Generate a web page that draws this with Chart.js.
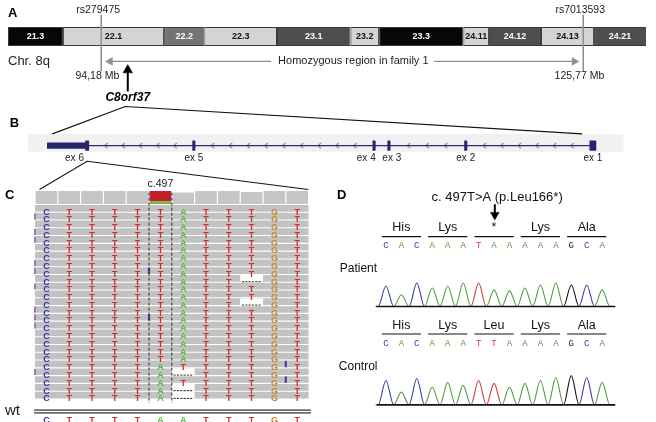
<!DOCTYPE html>
<html>
<head>
<meta charset="utf-8">
<title>C8orf37 c.497T>A</title>
<script src="https://cdn.jsdelivr.net/npm/chart.js@4.4.1/dist/chart.umd.min.js"></script>
<style>
html, body { margin: 0; padding: 0; background: #fff; }
#wrap { position: relative; width: 656px; height: 422px; overflow: hidden; }
#wrap canvas { position: absolute; left: 0; top: 0; }
</style>
</head>
<body>
<div id="wrap">
  <canvas id="chartA" width="656" height="422"></canvas>
  <canvas id="chartB" width="656" height="422"></canvas>
  <canvas id="chartC" width="656" height="422"></canvas>
  <canvas id="chartD" width="656" height="422"></canvas>
</div>
<script>
// ---- Panel A: chromosome 8q ideogram (Mb) ----
const bandNames = ['21.3', '22.1', '22.2', '22.3', '23.1', '23.2', '23.3', '24.11', '24.12', '24.13', '24.21'];
const bandStart = [88.07, 91.67, 98.30, 100.94, 105.70, 110.52, 112.39, 117.92, 119.59, 123.00, 126.48];
const bandEnd   = [91.67, 98.30, 100.94, 105.70, 110.52, 112.39, 117.92, 119.59, 123.00, 126.48, 129.89];
const bandStain = ['gpos100', 'gneg', 'gpos50', 'gneg', 'gpos75', 'gneg', 'gpos100', 'gneg', 'gpos75', 'gneg', 'gpos75'];
const snpIds = ['rs279475', 'rs7013593'];
const snpMb = [94.18, 125.77];
const snpMbLabels = ['94,18 Mb', '125,77 Mb'];
const geneName = 'C8orf37';
const geneMb = 95.92;
const regionLabel = 'Homozygous region in family 1';

// ---- Panel B: gene model (kb from the 3' end) ----
const exonNames = ['ex 6', 'ex 5', 'ex 4', 'ex 3', 'ex 2', 'ex 1'];
const exonStart = [1.75, 6.66, 14.92, 15.60, 19.12, 24.86];
const exonEnd   = [1.90, 6.77, 15.03, 15.71, 19.23, 25.14];
const utrStart = [0.00];
const utrEnd = [1.75];

// ---- Panel C: aligned reads around c.497 ----
const refBases = 'CTTTTAATTTGT';
const reads = [
  'CTTTTTATTTGT', 'CTTTTTATTTGT', 'CTTTTTATTTGT', 'CTTTTTATTTGT', 'CTTTTTATTTGT',
  'CTTTTTATTTGT', 'CTTTTTATTTGT', 'CTTTTTATTTGT', 'CTTTTTATTTGT', 'CTTTTTATT-GT',
  'CTTTTTATTTGT', 'CTTTTTATTTGT', 'CTTTTTATT-GT', 'CTTTTTATTTGT', 'CTTTTTATTTGT',
  'CTTTTTATTTGT', 'CTTTTTATTTGT', 'CTTTTTATTTGT', 'CTTTTTATTTGT', 'CTTTTTATTTGT',
  'CTTTTATTTTGT', 'CTTTTA-TTTGT', 'CTTTTATTTTGT', 'CTTTTA-TTTGT', 'CTTTTA-TTTGT'
];
const insertRows = [9, 15, 21, 23];
const insertAfter = [4, 4, 10, 10];
const clippedRows = [2, 4, 5, 8, 9, 11, 14, 15, 16, 22];
const variantCol = 5;
const variantLabel = 'c.497';

// ---- Panel D: Sanger sequencing ----
const patientSeq = 'CACAAATAAAAAGCA';
const controlSeq = 'CACAAATTAAAAGCA';
const patientCodons = ['His', 'Lys', '*', 'Lys', 'Ala'];
const controlCodons = ['His', 'Lys', 'Leu', 'Lys', 'Ala'];
const patientPeaks = [21, 12, 24, 19, 21, 24, 24, 17, 16, 19, 22, 24, 22, 22, 17];
const controlPeaks = [25, 13, 27, 18, 23, 20, 25, 22, 18, 22, 25, 28, 30, 28, 23];
const mutationLabel = 'c. 497T>A (p.Leu166*)';

// ---- shared helpers ----
const FONT = "'Liberation Sans', Arial, sans-serif";
const stainColor = { gpos100: '#070707', gpos75: '#4e4e4e', gpos50: '#747474', gneg: '#d4d4d4' };
const igvColor = { A: '#5fb83c', C: '#3434a8', G: '#cc8630', T: '#d62b2b' };
const traceColor = { A: '#4f9d3d', C: '#3b3bac', G: '#111111', T: '#d23b3b' };

function lin(axis, min, max, extra) {
  return Object.assign({ type: 'linear', axis: axis, display: false, min: min, max: max,
    offset: false, bounds: 'data', grace: 0 }, extra || {});
}

function baseOptions(scales) {
  return {
    responsive: false,
    animation: false,
    devicePixelRatio: 1,
    events: [],
    layout: { padding: 0 },
    plugins: { legend: { display: false }, tooltip: { enabled: false } },
    scales: scales
  };
}

// Draws text items positioned with the chart's own scales
function textLayer(items) {
  return {
    id: 'textLayer',
    afterDatasetsDraw(chart) {
      const ctx = chart.ctx;
      ctx.save();
      ctx.textBaseline = 'middle';
      items.forEach(t => {
        const xs = chart.scales[t.xAxis || 'x'];
        const ys = chart.scales[t.yAxis || 'y'];
        ctx.font = t.font;
        ctx.fillStyle = t.color || '#000';
        ctx.textAlign = t.align || 'center';
        ctx.fillText(t.text, xs.getPixelForValue(t.x), ys.getPixelForValue(t.y));
      });
      ctx.restore();
    }
  };
}

function segment(points, color, width, extra) {
  return Object.assign({ type: 'line', data: points, borderColor: color, borderWidth: width,
    pointRadius: 0, tension: 0, fill: false, xAxisID: 'x', yAxisID: 'y', order: 1 }, extra || {});
}

// ================= Panel A =================
const bandY = 31.5, arrowY = 57;
new Chart(document.getElementById('chartA'), {
  type: 'line',
  data: {
    datasets: [
      {
        type: 'bar', indexAxis: 'y', xAxisID: 'x', yAxisID: 'y', stack: 'k', order: 5,
        data: bandStart.map((s, i) => ({ x: [s, bandEnd[i]], y: bandY })),
        backgroundColor: bandStain.map(s => stainColor[s]),
        borderColor: '#3a3a3a', borderWidth: 1, borderSkipped: false,
        barThickness: 19, inflateAmount: 0
      },
      ...snpMb.map(mb => segment([{ x: mb, y: 9 }, { x: mb, y: 67 }], '#8f8f8f', 1.5)),
      segment([{ x: snpMb[0] + 0.58, y: arrowY }, { x: 105.31, y: arrowY }], '#8f8f8f', 1.4, {
        pointRadius: [4.6, 0], pointStyle: 'triangle', pointRotation: 270,
        pointBackgroundColor: '#8f8f8f', pointBorderColor: '#8f8f8f', pointBorderWidth: 0.5
      }),
      segment([{ x: 115.99, y: arrowY }, { x: snpMb[1] - 0.58, y: arrowY }], '#8f8f8f', 1.4, {
        pointRadius: [0, 4.6], pointStyle: 'triangle', pointRotation: 90,
        pointBackgroundColor: '#8f8f8f', pointBorderColor: '#8f8f8f', pointBorderWidth: 0.5
      }),
      segment([{ x: geneMb, y: 88 }, { x: geneMb, y: 66 }], '#000', 2, {
        pointRadius: [0, 5.5], pointStyle: 'triangle', pointRotation: 0,
        pointBackgroundColor: '#000', pointBorderColor: '#000', pointBorderWidth: 0.5
      })
    ]
  },
  options: baseOptions({
    x: lin('x', 87.939, 130.145, { stacked: false }),
    y: lin('y', 0, 422, { reverse: true })
  }),
  plugins: [textLayer([
    { text: 'A', x: 88.07, y: 8, font: 'bold 13px ' + FONT, align: 'left' },
    ...bandNames.map((n, i) => ({
      text: n, x: (bandStart[i] + bandEnd[i]) / 2, y: bandY,
      font: 'bold 9px ' + FONT, color: bandStain[i] === 'gneg' ? '#111' : '#fff'
    })),
    ...snpIds.map((s, i) => ({ text: s, x: snpMb[i] - 0.2, y: 4.5, font: '10.5px ' + FONT, color: '#222' })),
    ...snpMbLabels.map((s, i) => ({ text: s, x: snpMb[i] - 0.25, y: 72, font: '10.5px ' + FONT, color: '#222' })),
    { text: 'Chr. 8q', x: 88.07, y: 57, font: '13px ' + FONT, align: 'left', color: '#222' },
    { text: regionLabel, x: 110.7, y: arrowY, font: '11px ' + FONT, color: '#222' },
    { text: geneName, x: geneMb, y: 94, font: 'italic bold 12px ' + FONT }
  ])]
});

// ================= Panel B =================
const geneY = 144;
const geneBlocks = [[utrStart[0], exonEnd[0]]].concat(exonStart.slice(1).map((s, i) => [s, exonEnd[i + 1]]));
const chevrons = [];
for (let i = 0; i < geneBlocks.length - 1; i++) {
  const a = geneBlocks[i][1], b = geneBlocks[i + 1][0];
  const n = Math.round((b - a) / 0.83) - 1;
  for (let k = 1; k <= n; k++) chevrons.push({ x: a + (b - a) * k / (n + 1), y: geneY });
}
const chev = document.createElement('canvas');
chev.width = 5; chev.height = 7;
const chevCtx = chev.getContext('2d');
chevCtx.strokeStyle = '#3a3878';
chevCtx.lineWidth = 1;
chevCtx.beginPath(); chevCtx.moveTo(3.8, 0.8); chevCtx.lineTo(1.2, 3.5); chevCtx.lineTo(3.8, 6.2); chevCtx.stroke();

const exonLabelShift = [-0.58, 0, -0.36, 0.13, 0, 0];
new Chart(document.getElementById('chartB'), {
  type: 'line',
  data: {
    datasets: [
      {
        type: 'bar', indexAxis: 'y', xAxisID: 'x', yAxisID: 'y', stack: 'k', order: 10,
        data: [{ x: [-0.90, 26.40], y: 141.2 }], backgroundColor: '#f1f1f1',
        borderWidth: 0, barThickness: 17.7, inflateAmount: 0
      },
      segment([{ x: exonEnd[0], y: geneY }, { x: exonStart[5], y: geneY }], '#2e2c6e', 1.2, { order: 6 }),
      {
        type: 'line', showLine: false, data: chevrons, pointStyle: chev, pointRadius: 3,
        xAxisID: 'x', yAxisID: 'y', order: 5
      },
      {
        type: 'bar', indexAxis: 'y', xAxisID: 'x', yAxisID: 'y', stack: 'k', order: 4,
        data: utrStart.map((s, i) => ({ x: [s, utrEnd[i]], y: geneY })),
        backgroundColor: '#25246d', borderWidth: 0, barThickness: 5.5
      },
      {
        type: 'bar', indexAxis: 'y', xAxisID: 'x', yAxisID: 'y', stack: 'k', order: 3,
        data: exonStart.map((s, i) => ({ x: [s, exonEnd[i]], y: geneY })),
        backgroundColor: '#25246d', borderWidth: 0, barThickness: 9.5, borderRadius: 1
      },
      segment([{ x: 0.23, y: 132 }, { x: 3.57, y: 104 }, { x: 24.51, y: 132 }], '#111', 1.1),
      segment([{ x: -0.36, y: 189 }, { x: 1.82, y: 160 }, { x: 11.96, y: 189 }], '#111', 1.1)
    ]
  },
  options: baseOptions({
    x: lin('x', -1.9406, 27.664, { stacked: false }),
    y: lin('y', 0, 422, { reverse: true })
  }),
  plugins: [textLayer([
    { text: 'B', x: -1.72, y: 121.5, font: 'bold 13px ' + FONT, align: 'left' },
    ...exonNames.map((n, i) => ({
      text: n, x: (exonStart[i] + exonEnd[i]) / 2 + exonLabelShift[i], y: 157,
      font: '10px ' + FONT, color: '#222'
    }))
  ])]
});

// ================= Panel C =================
const nCols = refBases.length;
const coverageGrey = [];
const coverageAllele = { A: [], C: [], G: [], T: [] };
for (let c = 0; c < nCols; c++) {
  const counts = { A: 0, C: 0, G: 0, T: 0 };
  reads.forEach(r => { if (r[c] !== '-') counts[r[c]]++; });
  const depth = counts.A + counts.C + counts.G + counts.T;
  if ((depth - counts[refBases[c]]) / depth >= 0.2) {
    let cum = 0;
    'ACGT'.split('').forEach(b => {
      if (counts[b]) { coverageAllele[b].push({ x: c, y: [cum, cum + counts[b]] }); cum += counts[b]; }
    });
  } else {
    coverageGrey.push({ x: c, y: [0, depth] });
  }
}
const deletions = [];
reads.forEach((r, i) => r.split('').forEach((b, c) => { if (b === '-') deletions.push({ row: i + 1, col: c }); }));

const covColor = { A: '#6cb83c', C: '#3434a8', G: '#cc8630', T: '#be2228' };
function readBar(data, color, thickness, order) {
  return { type: 'bar', indexAxis: 'y', xAxisID: 'x', yAxisID: 'y', stack: 'k', order: order,
    data: data, backgroundColor: color, borderWidth: 0, barThickness: thickness, inflateAmount: 0 };
}
function covBar(data, color) {
  return { type: 'bar', xAxisID: 'xCov', yAxisID: 'yCov', grouped: false, order: 9,
    data: data, backgroundColor: color, borderWidth: 0, barThickness: 21.6, inflateAmount: 0 };
}

const readFont = 'bold 9px ' + FONT;
const readLetters = [];
reads.forEach((r, i) => r.split('').forEach((b, c) => {
  if (b !== '-') readLetters.push({ text: b, x: c, y: i + 1.05, font: readFont, color: igvColor[b] });
}));

new Chart(document.getElementById('chartC'), {
  type: 'line',
  data: {
    datasets: [
      readBar(reads.map((r, i) => ({ x: [-0.5, nCols - 0.5], y: i + 1 })), '#c2c2c2', 6.7, 10),
      readBar(deletions.map(d => ({ x: [d.col - 0.5, d.col + 0.5], y: d.row })), '#ffffff', 6.7, 8),
      ...deletions.map(d => segment([{ x: d.col - 0.42, y: d.row }, { x: d.col + 0.42, y: d.row }], '#222', 1,
        { borderDash: [2, 1.3], order: 4 })),
      readBar(insertRows.map((r, i) => ({ x: [insertAfter[i] + 0.45, insertAfter[i] + 0.55], y: r })), '#5a3ea6', 6.4, 3),
      readBar(clippedRows.map(r => ({ x: [-0.53, -0.48], y: r })), '#5a3ea6', 6, 3),
      covBar(coverageGrey, '#c6c6c6'),
      ...'ACGT'.split('').filter(b => coverageAllele[b].length).map(b => covBar(coverageAllele[b], covColor[b])),
      segment([{ x: variantCol - 0.5, y: -1.45 }, { x: variantCol - 0.5, y: 25.6 }], '#2a2a2a', 1, { borderDash: [3, 2], order: 2 }),
      segment([{ x: variantCol + 0.5, y: -1.45 }, { x: variantCol + 0.5, y: 25.6 }], '#2a2a2a', 1, { borderDash: [3, 2], order: 2 }),
      segment([{ x: -0.54, y: 26.5 }, { x: 11.6, y: 26.5 }], '#6b6b6b', 1.8),
      segment([{ x: -0.54, y: 26.86 }, { x: 11.6, y: 26.86 }], '#6b6b6b', 1.8)
    ]
  },
  options: baseOptions({
    x: lin('x', -2.035, 26.737, { stacked: false }),
    xCov: lin('x', -2.035, 26.737),
    y: lin('y', -26.211, 28.031, { reverse: true }),
    yCov: lin('y', -419.2, 392.3, { stacked: false })
  }),
  plugins: [textLayer([
    { text: 'C', x: -1.82, y: -1.05, font: 'bold 13px ' + FONT, align: 'left' },
    { text: variantLabel, x: variantCol, y: -2.56, font: '10.5px ' + FONT, color: '#222' },
    { text: 'wt', x: -1.816, y: 26.62, font: '15px ' + FONT, align: 'left', color: '#222' },
    ...readLetters,
    ...refBases.split('').map((b, c) => ({ text: b, x: c, y: 27.85, font: readFont, color: igvColor[b] }))
  ])]
});

// ================= Panel D =================
const traceStart = -0.65, traceEnd = 14.84;
function trace(seq, heights, base) {
  const pts = [{ x: traceStart, y: 0 }];
  let lastX = traceStart;
  for (let i = 0; i < seq.length; i++) {
    if (seq[i] !== base) continue;
    if (i - 0.5 > lastX + 1e-6) pts.push({ x: i - 0.5, y: 0 });
    pts.push({ x: i, y: heights[i] });
    pts.push({ x: i + 0.5, y: 0 });
    lastX = i + 0.5;
  }
  if (traceEnd > lastX) pts.push({ x: traceEnd, y: 0 });
  return pts;
}
function traceSets(seq, heights, axisId) {
  return 'ACGT'.split('').filter(b => seq.indexOf(b) >= 0).map(b => ({
    type: 'line', data: trace(seq, heights, b), borderColor: traceColor[b], borderWidth: 1.1,
    pointRadius: 0, cubicInterpolationMode: 'monotone', fill: false,
    xAxisID: 'x', yAxisID: axisId, order: 3
  }));
}
function codonItems(codons, seq, yCodon, yBase) {
  const items = [];
  codons.forEach((c, k) => items.push({ text: c, x: 3 * k + 1, y: yCodon, font: '12.5px ' + FONT, color: '#111' }));
  seq.split('').forEach((b, i) => items.push({ text: b, x: i, y: yBase, font: '9px "Liberation Mono", monospace', color: traceColor[b] === '#111111' ? '#222' : traceColor[b] }));
  return items;
}
function codonLines(codons, y) {
  return codons.map((c, k) => segment([{ x: 3 * k + 1 - 1.27, y: y }, { x: 3 * k + 1 + 1.27, y: y }], '#111', 1.2));
}

new Chart(document.getElementById('chartD'), {
  type: 'line',
  data: {
    datasets: [
      ...traceSets(patientSeq, patientPeaks, 'yP'),
      ...traceSets(controlSeq, controlPeaks, 'yC'),
      segment([{ x: traceStart + 0.02, y: 0 }, { x: traceEnd, y: 0 }], '#111', 1.6, { yAxisID: 'yP', order: 1 }),
      segment([{ x: traceStart + 0.08, y: 0 }, { x: traceEnd, y: 0 }], '#111', 1.6, { yAxisID: 'yC', order: 1 }),
      ...codonLines(patientCodons, 237.3),
      ...codonLines(controlCodons, 337.3),
      segment([{ x: 7.05, y: 204 }, { x: 7.05, y: 215 }], '#000', 2, {
        pointRadius: [0, 5], pointStyle: 'triangle', pointRotation: 180,
        pointBackgroundColor: '#000', pointBorderColor: '#000', pointBorderWidth: 0.5
      })
    ]
  },
  options: baseOptions({
    x: lin('x', -24.628, 17.129),
    y: lin('y', 0, 422, { reverse: true }),
    yP: lin('y', -113, 309),
    yC: lin('y', -12, 410)
  }),
  plugins: [textLayer([
    { text: 'D', x: -3.17, y: 195, font: 'bold 13px ' + FONT, align: 'left' },
    { text: mutationLabel, x: 7.2, y: 197.5, font: '13px ' + FONT, color: '#111' },
    ...codonItems(patientCodons, patientSeq, 228.5, 246.7),
    ...codonItems(controlCodons, controlSeq, 329, 346.7),
    { text: 'Patient', x: -2.99, y: 270, font: '12px ' + FONT, align: 'left', color: '#111' },
    { text: 'Control', x: -3.05, y: 371, font: '12px ' + FONT, align: 'left', color: '#111' }
  ])]
});
</script>
</body>
</html>
